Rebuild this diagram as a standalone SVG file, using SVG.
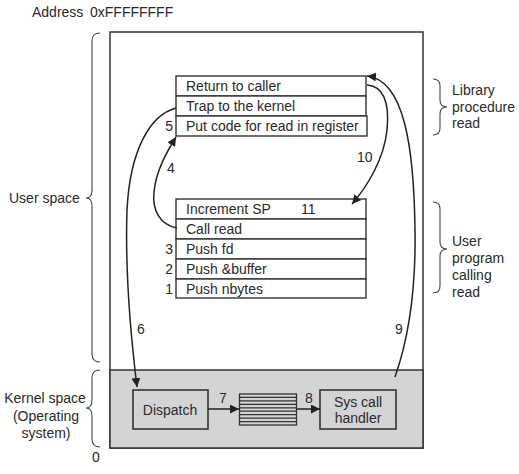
<svg xmlns="http://www.w3.org/2000/svg" width="519" height="474" viewBox="0 0 519 474">
<defs>
<style>
text{font-family:"Liberation Sans",Arial,sans-serif;font-size:14px;fill:#2a2a2a}
.box{fill:#fff;stroke:#333;stroke-width:1.4}
.kbox{fill:#d4d4d4;stroke:#333;stroke-width:1.6}
.brace{fill:none;stroke:#444;stroke-width:1.1}
.conn{fill:none;stroke:#222;stroke-width:1.5}
.mid{text-anchor:middle}
.end{text-anchor:end}
</style>
<marker id="ah" viewBox="0 0 10 10" refX="10" refY="5" markerWidth="9" markerHeight="9" markerUnits="userSpaceOnUse" orient="auto">
<path d="M0,0 L10,5 L0,10 z" fill="#222"/>
</marker>
</defs>
<rect width="519" height="474" fill="#fff"/>
<text x="32" y="17">Address</text>
<text x="90" y="17">0xFFFFFFFF</text>
<g id="memory">
<rect x="110" y="32" width="313" height="416" fill="#fff" stroke="#333" stroke-width="1.5"/>
<rect x="110" y="370" width="313" height="78" fill="#d4d4d4" stroke="#333" stroke-width="1.5"/>
</g>
<g id="braces">
<path class="brace" d="M100,33 Q92,33 92,41 L92,190 Q92,198 86,198 Q92,198 92,206 L92,354 Q92,362 100,362"/>
<path class="brace" d="M100,370 Q92,370 92,378 L92,400 Q92,408 86,408 Q92,408 92,416 L92,439 Q92,447 100,447"/>
<path class="brace" d="M433,79 Q440,79 440,86 L440,100 Q440,107 447,107 Q440,107 440,114 L440,128 Q440,135 433,135"/>
<path class="brace" d="M433,202 Q440,202 440,209 L440,242 Q440,249 447,249 Q440,249 440,256 L440,286 Q440,293 433,293"/>
</g>
<text x="9" y="203">User space</text>
<text class="mid" x="45" y="403">Kernel space</text>
<text class="mid" x="46" y="421">(Operating</text>
<text class="mid" x="46" y="438">system)</text>
<text class="mid" x="96" y="462">0</text>
<text x="452" y="95">Library</text>
<text x="452" y="112">procedure</text>
<text x="452" y="128">read</text>
<text x="452" y="246">User</text>
<text x="452" y="263">program</text>
<text x="452" y="280">calling</text>
<text x="452" y="297">read</text>
<g id="library">
<rect class="box" x="176" y="76" width="190" height="20"/>
<rect class="box" x="176" y="96" width="190" height="20"/>
<rect class="box" x="176" y="116" width="191" height="20"/>
<text x="186" y="91">Return to caller</text>
<text x="186" y="111">Trap to the kernel</text>
<text x="186" y="131">Put code for read in register</text>
<text class="end" x="173" y="131">5</text>
</g>
<g id="userprog">
<rect class="box" x="176" y="199" width="190" height="20"/>
<rect class="box" x="176" y="219" width="190" height="20"/>
<rect class="box" x="176" y="239" width="190" height="20"/>
<rect class="box" x="176" y="259" width="190" height="20"/>
<rect class="box" x="176" y="279" width="190" height="19"/>
<text x="186" y="214">Increment SP</text>
<text x="301" y="214">11</text>
<text x="186" y="234">Call read</text>
<text x="186" y="254">Push fd</text>
<text x="186" y="274">Push &amp;buffer</text>
<text x="186" y="294">Push nbytes</text>
<text class="end" x="173" y="254">3</text>
<text class="end" x="173" y="274">2</text>
<text class="end" x="173" y="294">1</text>
</g>
<g id="dispatch">
<rect class="kbox" x="133" y="390" width="75" height="39"/>
<text class="mid" x="170" y="415">Dispatch</text>
</g>
<g id="table">
<rect x="239.5" y="394" width="57" height="31" fill="#d4d4d4" stroke="#333" stroke-width="1.3"/>
<path d="M239.5,397.4H296.5M239.5,400.9H296.5M239.5,404.3H296.5M239.5,407.8H296.5M239.5,411.2H296.5M239.5,414.7H296.5M239.5,418.1H296.5M239.5,421.6H296.5" stroke="#333" stroke-width="1.2"/>
</g>
<g id="syscall">
<rect class="kbox" x="320" y="390" width="76" height="39"/>
<text class="mid" x="358" y="407">Sys call</text>
<text class="mid" x="358" y="423">handler</text>
</g>
<g id="connectors">
<path class="conn" d="M176,108 C150,115 130,150 127,210 C125,270 130,330 137,387" marker-end="url(#ah)"/>
<path class="conn" d="M177,228 C160,225 152,210 154,192 C156,170 168,150 176,137" marker-end="url(#ah)"/>
<path class="conn" d="M367,85 C382,86 390,100 387,130 C384,160 366,188 352,204" marker-end="url(#ah)"/>
<path class="conn" d="M395,377 C408,340 416,290 415,230 C414,150 405,80 367,76" marker-end="url(#ah)"/>
<path class="conn" d="M208,409 L239,409" marker-end="url(#ah)"/>
<path class="conn" d="M297,409 L320,409" marker-end="url(#ah)"/>
<text x="137" y="334">6</text>
<text x="167" y="173">4</text>
<text x="357" y="162">10</text>
<text x="395" y="334">9</text>
<text x="219" y="403">7</text>
<text x="305" y="403">8</text>
</g>
</svg>
